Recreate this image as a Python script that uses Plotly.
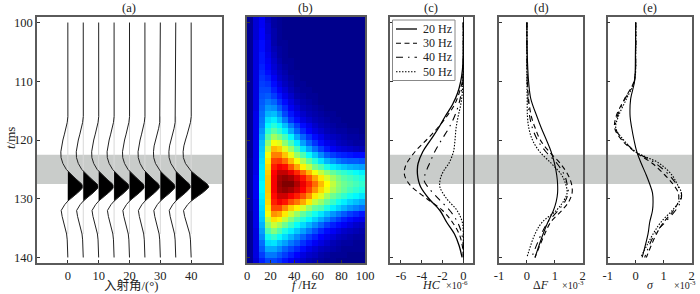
import plotly.graph_objects as go
import numpy as np

W, H = 700, 294
FONT = "Liberation Serif, Noto Sans CJK SC, serif"
TOP_PX, BOT_PX = 17, 263

# (a) wavelet gather
ANGLES = [0, 5, 10, 15, 20, 25, 30, 35, 40]
GAINS = [1.0, 1.0, 1.0, 1.0, 1.0, 0.98, 0.98, 0.98, 1.15]
T_WAVE = [100, 104, 108, 112, 114, 116, 117, 118, 119, 120, 121, 122, 123, 124, 125, 125.3, 126, 126.5, 127, 127.5,
          128, 128.5, 129, 129.5, 130, 130.4, 131, 132, 133, 134, 135, 136, 137, 138, 139, 140]
WAVELET = [0, 0, 0, 0.02, 0.05, 0.02, -0.2, -0.55, -1.1, -1.6, -2.05, -2.27, -2.2, -1.6, -0.5, 0, 1.3, 2.3, 3.4, 4.5,
           5.0, 4.2, 3.2, 2.0, 0.8, 0, -1.0, -2.15, -1.85, -1.3, -0.75, -0.4, -0.2, -0.1, -0.02, 0]

# (b) spectrum
FREQ = [2.5, 7.5, 12.5, 17.5, 22.5, 27.5, 32.5, 37.5, 42.5, 47.5, 52.5, 57.5, 62.5, 67.5, 72.5, 77.5, 82.5, 87.5, 92.5, 97.5]
T_SPEC = [99.5 + i for i in range(42)]
SPEC = [
 [1,7,10,5,2,1,0,0,0,0,0,0,0,0,0,0,0,0,0,0],
 [1,7,10,6,2,1,0,0,0,0,0,0,0,0,0,0,0,0,0,0],
 [1,7,11,6,3,1,0,0,0,0,0,0,0,0,0,0,0,0,0,0],
 [1,7,11,7,3,1,0,0,0,0,0,0,0,0,0,0,0,0,0,0],
 [1,8,12,8,3,1,1,0,0,0,0,0,0,0,0,0,0,0,0,0],
 [1,8,12,8,4,2,1,0,0,0,0,0,0,0,0,0,0,0,0,0],
 [1,8,13,9,5,2,1,0,0,0,0,0,0,0,0,0,0,0,0,0],
 [1,8,13,10,6,3,1,1,0,0,0,0,0,0,0,0,0,0,0,0],
 [1,8,14,11,7,4,2,1,0,0,0,0,0,0,0,0,0,0,0,0],
 [1,8,15,12,8,5,3,1,1,0,0,0,0,0,0,0,0,0,0,0],
 [1,8,16,14,10,6,4,2,1,0,0,0,0,0,0,0,0,0,0,0],
 [1,8,17,16,12,8,5,3,1,1,0,0,0,0,0,0,0,0,0,0],
 [1,8,18,18,14,10,7,4,2,1,1,0,0,0,0,0,0,0,0,0],
 [1,8,19,20,17,13,9,6,3,2,1,1,0,0,0,0,0,0,0,0],
 [1,8,20,23,21,16,12,8,5,3,2,1,0,0,0,0,0,0,0,0],
 [1,8,21,26,25,20,15,10,7,4,3,2,1,0,0,0,0,0,0,0],
 [1,9,22,29,30,25,18,13,9,6,4,3,2,1,1,0,0,0,0,0],
 [1,9,23,33,35,30,23,16,12,8,6,4,3,2,1,1,0,0,0,0],
 [1,9,24,36,40,36,30,23,17,12,9,6,4,3,2,1,1,0,0,0],
 [1,9,26,40,45,41,35,28,21,15,11,8,6,4,3,2,2,1,1,0],
 [1,9,28,45,52,48,43,36,28,21,16,12,9,6,5,4,3,2,2,1],
 [1,9,30,50,60,58,50,43,35,27,21,16,12,9,7,5,4,3,2,2],
 [1,9,31,55,68,66,58,51,43,34,28,22,17,13,10,8,7,6,5,4],
 [1,9,32,60,74,74,67,59,51,44,37,31,25,20,17,15,14,13,12,12],
 [2,9,33,63,80,81,76,68,60,53,46,40,34,29,26,23,21,20,20,19],
 [2,9,34,65,84,88,86,78,70,62,55,48,44,39,35,33,31,29,28,27],
 [2,9,35,66,87,93,93,89,83,76,68,60,55,50,46,43,41,39,37,35],
 [2,10,35,67,88,96,98,96,91,85,78,70,63,57,52,48,45,43,41,39],
 [2,10,36,67,88,97,100,100,95,89,83,76,68,61,55,50,47,45,43,41],
 [2,10,36,67,88,96,98,96,92,87,80,72,65,59,53,49,46,43,41,39],
 [2,10,35,66,86,92,92,88,84,79,72,63,58,52,47,44,41,38,36,34],
 [2,9,34,65,84,88,85,79,75,70,63,55,51,46,42,38,35,32,30,28],
 [2,9,33,63,80,80,73,66,62,57,51,46,44,39,35,32,29,26,24,22],
 [1,9,32,60,72,70,63,56,51,46,42,38,34,30,26,23,20,17,15,13],
 [1,9,31,55,64,62,55,49,44,40,36,32,28,24,20,17,14,12,10,9],
 [1,9,29,50,56,52,47,42,37,33,29,25,21,17,14,12,10,8,6,5],
 [1,8,27,44,49,44,39,35,31,27,23,19,15,12,10,8,6,5,4,3],
 [1,8,25,38,41,37,33,29,25,21,17,14,11,9,7,5,4,3,2,2],
 [1,8,22,33,34,30,27,23,20,16,13,10,8,6,4,3,2,2,1,1],
 [1,8,20,28,28,25,21,18,15,12,9,7,5,4,3,2,1,1,1,1],
 [1,8,17,23,23,20,17,14,11,8,6,5,3,2,1,1,1,0,0,0],
 [1,7,14,18,18,16,13,10,8,6,4,3,2,1,1,0,0,0,0,0],
]

# (c) HC
LABELS = ["20 Hz", "30 Hz", "40 Hz", "50 Hz"]
T_C = [100, 102, 104, 106, 108, 110, 112, 114, 116, 118, 120, 122, 124, 125, 126, 127, 128, 130, 132, 134, 136, 138, 140]
HC_20 = [0, 0, 0, -0.02, -0.08, -0.25, -0.55, -1.05, -1.75, -2.4, -3.15, -3.9, -4.35, -4.42, -4.4, -4.3, -4.1, -3.3, -2.25, -1.6, -0.85, -0.4, -0.12]
HC_30 = [0, 0, 0, 0, -0.03, -0.1, -0.4, -0.85, -1.6, -2.5, -3.55, -4.65, -5.45, -5.65, -5.65, -5.4, -4.95, -3.5, -2.0, -1.05, -0.4, -0.1, 0]
HC_40 = [0, 0, 0, 0, 0, -0.05, -0.2, -0.45, -0.85, -1.4, -2.1, -2.75, -3.25, -3.5, -3.7, -3.75, -3.4, -2.4, -1.3, -0.55, -0.15, 0, 0]
HC_50 = [0, 0, 0, 0, 0, -0.05, -0.1, -0.25, -0.5, -0.7, -0.8, -0.95, -1.4, -1.8, -2.1, -2.25, -2.25, -1.6, -0.6, -0.1, 0, 0, 0]

# (d) and (e)
T_DE = [100, 105, 110, 113, 116, 118, 120, 122, 124, 126, 127.5, 129, 130.5, 132, 134, 136, 140]
DF_20 = [0, 0.01, 0.06, 0.14, 0.36, 0.52, 0.70, 0.87, 0.99, 1.07, 1.1, 1.1, 1.05, 0.95, 0.75, 0.58, 0.29]
DF_30 = [0, 0, 0.02, 0.06, 0.16, 0.3, 0.48, 0.8, 1.2, 1.48, 1.6, 1.62, 1.5, 1.25, 0.85, 0.64, 0.29]
DF_40 = [0, 0, 0.01, 0.04, 0.1, 0.2, 0.38, 0.68, 1.08, 1.35, 1.44, 1.48, 1.36, 1.12, 0.75, 0.52, 0.17]
DF_50 = [0, 0, 0, 0.01, 0.02, 0.07, 0.2, 0.46, 0.88, 1.25, 1.39, 1.44, 1.3, 1.05, 0.55, 0.29, 0]
SG_20 = [0, -0.01, -0.04, -0.18, -0.2, -0.14, -0.06, 0.04, 0.2, 0.38, 0.5, 0.6, 0.62, 0.6, 0.5, 0.44, 0.23]
SG_30 = [0, 0, -0.06, -0.4, -0.7, -0.75, -0.5, -0.03, 0.6, 1.05, 1.33, 1.52, 1.52, 1.35, 1.0, 0.74, 0.38]
SG_40 = [0, 0, -0.05, -0.38, -0.66, -0.72, -0.45, 0, 0.72, 1.2, 1.45, 1.63, 1.6, 1.42, 1.05, 0.68, 0.32]
SG_50 = [0, 0, -0.05, -0.33, -0.62, -0.71, -0.43, 0, 0.85, 1.3, 1.48, 1.63, 1.55, 1.3, 0.9, 0.62, 0.18]

DASHES = ["solid", "5px,3.5px", "7px,5px,1.5px,5px", "1.5px,1.5px"]
BAND = (122.5, 127.5)
YR = [140.94, 99.06]
SPINE = "#5a5a5a"

PANELS = {"a": (37, 222), "b": (247, 365), "c": (390, 473.3), "d": (499, 582.7), "e": (607.7, 691.7)}
def dom(p):
    return [PANELS[p][0] / W, PANELS[p][1] / W]
def px(x):
    return x / W
def py(y):
    return 1 - y / H

fig = go.Figure()

# (a)
t = np.array(T_WAVE)
wv = np.array(WAVELET)
for ang, g in zip(ANGLES, GAINS):
    fig.add_trace(go.Scatter(x=[ang, ang], y=[116, 136], mode="lines", line=dict(color="#d8d8d8", width=1),
                             xaxis="x", yaxis="y", showlegend=False, hoverinfo="skip"))
    mask = (t >= 125.3) & (t <= 130.4)
    fig.add_trace(go.Scatter(x=ang + g * wv[mask], y=t[mask], mode="lines", fill="toself", fillcolor="black",
                             line=dict(color="black", width=0.5), xaxis="x", yaxis="y", showlegend=False, hoverinfo="skip"))
    fig.add_trace(go.Scatter(x=ang + g * wv, y=t, mode="lines", line=dict(color="#222", width=1),
                             xaxis="x", yaxis="y", showlegend=False, hoverinfo="skip"))

# (b)
fig.add_trace(go.Heatmap(x=FREQ, y=T_SPEC, z=SPEC, zmin=0, zmax=100, showscale=False, xaxis="x2", yaxis="y2",
                         colorscale=[[0, "rgb(0,0,140)"], [0.11, "rgb(0,0,255)"], [0.365, "rgb(0,255,255)"],
                                     [0.61, "rgb(255,255,0)"], [0.87, "rgb(255,0,0)"], [1, "rgb(128,0,0)"]]))

# (c)
for i, s in enumerate([HC_20, HC_30, HC_40, HC_50]):
    fig.add_trace(go.Scatter(x=s, y=T_C, mode="lines", name=LABELS[i], xaxis="x3", yaxis="y3", showlegend=False,
                             line=dict(color="black", width=1.3 if i == 0 else 1.1, dash=DASHES[i], shape="spline")))
# (d)
for i, s in enumerate([DF_20, DF_30, DF_40, DF_50]):
    fig.add_trace(go.Scatter(x=s, y=T_DE, mode="lines", name=LABELS[i], xaxis="x4", yaxis="y4", showlegend=False,
                             line=dict(color="black", width=1.1, dash=DASHES[i], shape="spline")))
# (e)
for i, s in enumerate([SG_20, SG_30, SG_40, SG_50]):
    fig.add_trace(go.Scatter(x=s, y=T_DE, mode="lines", name=LABELS[i], xaxis="x5", yaxis="y5", showlegend=False,
                             line=dict(color="black", width=1.1, dash=DASHES[i], shape="spline")))

ax = dict(showgrid=False, zeroline=False, showline=True, mirror=True, linecolor=SPINE, linewidth=1.5,
          ticks="inside", ticklen=3, tickcolor="#333", tickwidth=1, tickfont=dict(family=FONT, size=12.5, color="#222"))
dom_y = [py(BOT_PX), py(TOP_PX)]

def note(x, y, text, size=12.5, angle=0, anchor="center"):
    return dict(x=px(x), y=py(y), xref="paper", yref="paper", text=text, showarrow=False, textangle=angle,
                font=dict(family=FONT, size=size, color="#222"), xanchor=anchor, yanchor="middle")

LEGEND_ROWS = [29, 43.3, 57.3, 71.7]
legend_shapes = [dict(type="rect", xref="paper", yref="paper", x0=px(392.5), x1=px(455), y0=py(20), y1=py(80.5),
                      fillcolor="white", line=dict(color="#888", width=1), layer="above")]
legend_notes = []
for i, row in enumerate(LEGEND_ROWS):
    legend_shapes.append(dict(type="line", xref="paper", yref="paper", x0=px(396), x1=px(417), y0=py(row), y1=py(row),
                              line=dict(color="black", width=1.3 if i == 0 else 1.1, dash=DASHES[i]), layer="above"))
    legend_notes.append(note(421.5, row, LABELS[i], 12, 0, "left"))

layout = dict(
    width=W, height=H, margin=dict(l=0, r=0, t=0, b=0, autoexpand=False), paper_bgcolor="white", plot_bgcolor="rgba(0,0,0,0)",
    font=dict(family=FONT, color="#222"), showlegend=False,
    xaxis=dict(domain=dom("a"), range=[-10, 50], tickvals=[0, 10, 20, 30, 40], anchor="y", **ax),
    yaxis=dict(domain=dom_y, range=YR, tickvals=[100, 110, 120, 130, 140], anchor="x", **ax),
    xaxis2=dict(domain=dom("b"), range=[0, 100], tickvals=[0, 20, 40, 60, 80, 100], anchor="y2", **ax),
    yaxis2=dict(domain=dom_y, range=YR, tickvals=[100, 110, 120, 130, 140], showticklabels=False, anchor="x2", **ax),
    xaxis3=dict(domain=dom("c"), range=[-7.05, 0.96], tickvals=[-6, -4, -2, 0], ticktext=["-6", "-4", "-2", "0"], anchor="y3",
                **{**ax, "zeroline": True}, zerolinecolor="#222", zerolinewidth=1),
    yaxis3=dict(domain=dom_y, range=YR, tickvals=[100, 110, 120, 130, 140], showticklabels=False, anchor="x3", **ax),
    xaxis4=dict(domain=dom("d"), range=[-1, 2], tickvals=[-1, 0, 1, 2], ticktext=["-1", "0", "1", "2"], anchor="y4", **ax),
    yaxis4=dict(domain=dom_y, range=YR, tickvals=[100, 110, 120, 130, 140], showticklabels=False, anchor="x4", **ax),
    xaxis5=dict(domain=dom("e"), range=[-1, 2], tickvals=[-1, 0, 1, 2], ticktext=["-1", "0", "1", "2"], anchor="y5", **ax),
    yaxis5=dict(domain=dom_y, range=YR, tickvals=[100, 110, 120, 130, 140], showticklabels=False, anchor="x5", **ax),
    shapes=[
        dict(type="rect", xref="paper", yref="y", x0=px(37), x1=px(222), y0=BAND[0], y1=BAND[1],
             fillcolor="#c9ccca", line=dict(width=0), layer="below"),
        dict(type="rect", xref="paper", yref="y", x0=px(390), x1=px(692), y0=BAND[0], y1=BAND[1],
             fillcolor="#c9ccca", line=dict(width=0), layer="below"),
    ] + legend_shapes,
)
layout["annotations"] = [
    note(129, 8, "(a)"), note(305, 8, "(b)"), note(431, 8, "(c)"), note(541, 8, "(d)"), note(650, 8, "(e)"),
    note(131, 285, "入射角/(°)", 12.5),
    note(10, 138, "<i>t</i>/ms", 13, -90),
    note(304, 285, "<i>f</i> /Hz", 12.5),
    note(431, 285, "<i>HC</i>", 12),
    note(457, 285, "×10<sup>-6</sup>", 10),
    note(541, 285, "Δ<i>F</i>", 12),
    note(573, 285, "×10<sup>-3</sup>", 10),
    note(650, 285, "<i>σ</i>", 12),
    note(685, 285, "×10<sup>-3</sup>", 10),
] + legend_notes
fig.update_layout(**layout)
fig.write_html("out.html", config={"displayModeBar": False},
               post_script="document.body.style.margin='0';document.body.style.overflow='hidden';")
